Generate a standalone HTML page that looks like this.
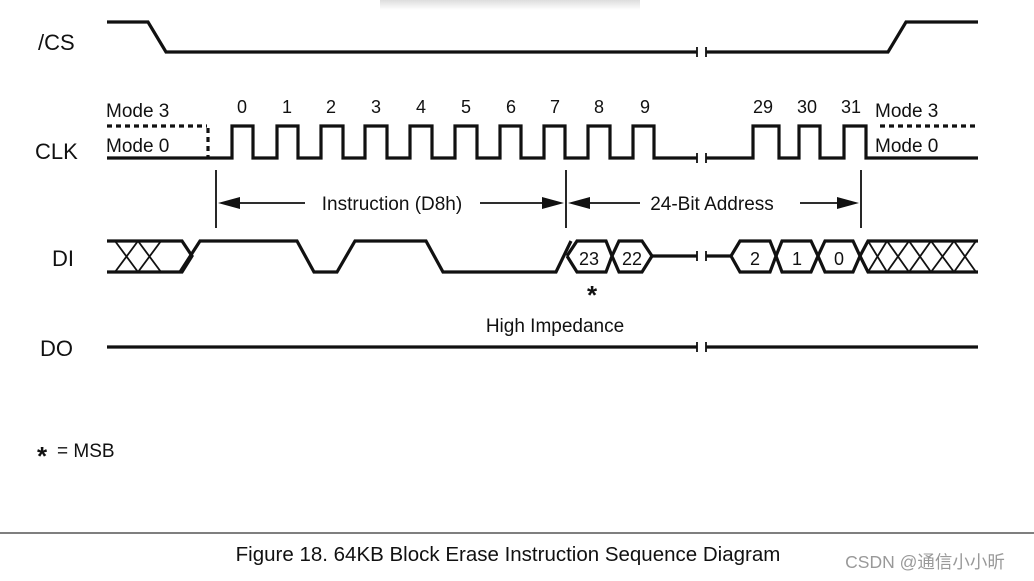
<!DOCTYPE html>
<html><head><meta charset="utf-8"><style>
html,body{margin:0;padding:0;background:#fff;}
svg{display:block;}
text{font-family:"Liberation Sans","Noto Sans CJK SC",sans-serif;fill:#111;}
</style></head><body>
<svg width="1034" height="581" viewBox="0 0 1034 581" xmlns="http://www.w3.org/2000/svg">
<defs>
<linearGradient id="sh" x1="0" y1="0" x2="0" y2="1"><stop offset="0" stop-color="#ddd"/><stop offset="1" stop-color="#fff"/></linearGradient>
</defs>
<rect x="380" y="0" width="260" height="10" fill="url(#sh)"/>
<g fill="none" stroke="#111" stroke-width="3.2" stroke-linejoin="miter">
<polyline points="107,22 148,22 166,52 697,52"/>
<polyline points="706,52 888,52 906,22 978,22"/>
<polyline points="107,158 232,158 232,126 253,126 253,158 277,158 277,126 298,126 298,158 321,158 321,126 343,126 343,158 365,158 365,126 387,126 387,158 410,158 410,126 432,126 432,158 455,158 455,126 477,126 477,158 500,158 500,126 521,126 521,158 544,158 544,126 565,126 565,158 588,158 588,126 610,126 610,158 633,158 633,126 654,126 654,158 697,158"/>
<polyline points="706,158 753,158 753,126 779,126 779,158 799,158 799,126 820,126 820,158 844,158 844,126 866,126 866,158 978,158"/>
<line x1="107" y1="126" x2="207" y2="126" stroke-dasharray="5,4"/>
<line x1="208" y1="128" x2="208" y2="158" stroke-dasharray="5,4"/>
<line x1="880" y1="126" x2="978" y2="126" stroke-dasharray="5,4"/>
<polyline points="107,241 182,241 192,256 182,272 107,272"/>
<polyline points="180,272 200,241 297,241 314,272 337,272 355,241 426,241 443,272 556,272 571,241"/>
<polyline points="567,256 577,241 606,241 612,256 606,272 577,272 567,256"/>
<polyline points="612,256 619,241 642,241 652,256 642,272 619,272 612,256"/>
<line x1="652" y1="256" x2="697" y2="256"/>
<line x1="706" y1="256" x2="731" y2="256"/>
<polyline points="731,256 740,241 770,241 776,256 770,272 740,272 731,256"/>
<polyline points="776,256 782,241 811,241 818,256 811,272 782,272 776,256"/>
<polyline points="818,256 825,241 853,241 860,256 853,272 825,272 818,256"/>
<polyline points="860,256 868,241 978,241"/>
<polyline points="860,256 868,272 978,272"/>
<line x1="107" y1="347" x2="697" y2="347"/>
<line x1="706" y1="347" x2="978" y2="347"/>
</g>
<g stroke="#111" stroke-width="1.8" fill="none">
<path d="M115,241 L138,272 M138,241 L115,272 M138,241 L161,272 M161,241 L138,272"/>
<path d="M868,241 L887,272 M887,241 L868,272 M887,241 L909,272 M909,241 L887,272 M909,241 L931,272 M931,241 L909,272 M931,241 L954,272 M954,241 L931,272 M954,241 L976,272 M976,241 L954,272"/>
<path d="M697,47 V57 M706,47 V57 M697,153 V163 M706,153 V163 M697,251 V261 M706,251 V261 M697,342 V352 M706,342 V352"/>
<path d="M216,170 V228 M566,170 V228 M861,170 V228"/>
<path d="M236,203 H305 M480,203 H546 M586,203 H640 M800,203 H841"/>
</g>
<g fill="#111">
<polygon points="218,203 240,197 240,209"/>
<polygon points="564,203 542,197 542,209"/>
<polygon points="568,203 590,197 590,209"/>
<polygon points="859,203 837,197 837,209"/>
</g>
<g font-size="22">
<text x="38" y="50">/CS</text>
<text x="35" y="159">CLK</text>
<text x="52" y="266">DI</text>
<text x="40" y="356">DO</text>
</g>
<g font-size="19">
<text x="106" y="117">Mode 3</text>
<text x="106" y="152">Mode 0</text>
<text x="875" y="117">Mode 3</text>
<text x="875" y="152">Mode 0</text>
<text x="392" y="210" text-anchor="middle">Instruction (D8h)</text>
<text x="712" y="210" text-anchor="middle">24-Bit Address</text>
<text x="555" y="332" text-anchor="middle">High Impedance</text>
<text x="589" y="265" text-anchor="middle" font-size="18">23</text>
<text x="632" y="265" text-anchor="middle" font-size="18">22</text>
<text x="755" y="265" text-anchor="middle" font-size="18">2</text>
<text x="797" y="265" text-anchor="middle" font-size="18">1</text>
<text x="839" y="265" text-anchor="middle" font-size="18">0</text>
<text x="57" y="457">= MSB</text>
</g>
<g font-size="18" text-anchor="middle">
<text x="242" y="113">0</text><text x="287" y="113">1</text><text x="331" y="113">2</text><text x="376" y="113">3</text><text x="421" y="113">4</text><text x="466" y="113">5</text><text x="511" y="113">6</text><text x="555" y="113">7</text><text x="599" y="113">8</text><text x="645" y="113">9</text>
<text x="763" y="113">29</text><text x="807" y="113">30</text><text x="851" y="113">31</text>
</g>
<text x="592" y="304" font-size="26" font-weight="bold" text-anchor="middle">*</text>
<text x="42" y="465" font-size="26" font-weight="bold" text-anchor="middle">*</text>
<line x1="0" y1="533" x2="1034" y2="533" stroke="#555" stroke-width="1.5"/>
<text x="508" y="561" font-size="20.5" text-anchor="middle">Figure 18. 64KB Block Erase Instruction Sequence Diagram</text>
<text x="925" y="568" font-size="17.5" text-anchor="middle" style="fill:#999">CSDN @通信小小昕</text>
</svg>
</body></html>
